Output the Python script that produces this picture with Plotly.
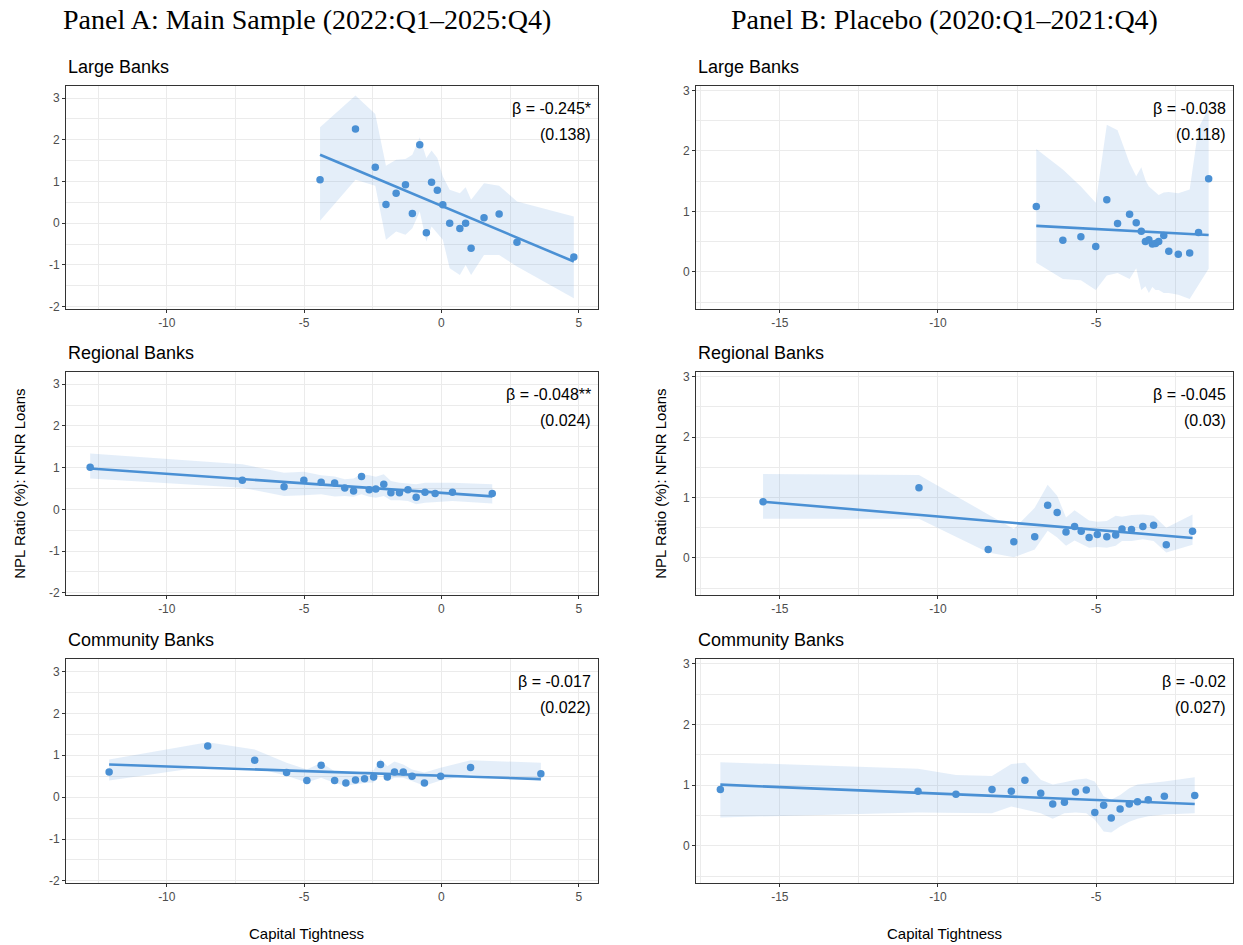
import plotly.graph_objects as go

# ---------------- data ----------------
a_large_x = [-4.42, -3.13, -2.41, -2.02, -1.65, -1.31, -1.06, -0.79, -0.55, -0.36,
             -0.15, 0.05, 0.30, 0.67, 0.88, 1.08, 1.55, 2.10, 2.75, 4.82]
a_large_y = [1.04, 2.26, 1.34, 0.45, 0.72, 0.92, 0.23, 1.88, -0.23, 0.98,
             0.79, 0.44, 0.00, -0.13, 0.00, -0.60, 0.13, 0.22, -0.46, -0.81]
a_large_hi = [2.30, 3.06, 2.62, 1.38, 1.52, 1.54, 1.64, 2.06, 1.56, 1.74,
              1.56, 1.12, 0.80, 0.72, 0.86, 0.56, 0.96, 0.90, 0.52, 0.16]
a_large_lo = [0.06, 1.04, 0.90, -0.40, -0.20, -0.28, -0.12, 0.28, -0.44, -0.08,
              -0.24, -0.40, -1.08, -1.24, -1.00, -1.24, -0.76, -0.76, -1.04, -1.80]

a_reg_x = [-12.79, -7.25, -5.73, -5.01, -4.38, -3.89, -3.52, -3.20, -2.91, -2.63,
           -2.39, -2.10, -1.84, -1.53, -1.22, -0.92, -0.60, -0.23, 0.40, 1.85]
a_reg_y = [1.01, 0.70, 0.54, 0.70, 0.65, 0.63, 0.51, 0.44, 0.79, 0.47,
           0.49, 0.60, 0.40, 0.40, 0.47, 0.29, 0.41, 0.38, 0.41, 0.38]
a_reg_hi = [1.34, 1.08, 0.88, 0.90, 0.82, 0.79, 0.72, 0.74, 0.84, 0.82,
            0.78, 0.84, 0.68, 0.64, 0.62, 0.60, 0.64, 0.64, 0.64, 0.60]
a_reg_lo = [0.74, 0.52, 0.32, 0.34, 0.36, 0.31, 0.32, 0.30, 0.36, 0.30,
            0.28, 0.32, 0.22, 0.22, 0.20, 0.12, 0.16, 0.18, 0.20, 0.14]

a_com_x = [-12.10, -8.51, -6.80, -5.64, -4.90, -4.38, -3.89, -3.48, -3.13, -2.80,
           -2.47, -2.22, -1.97, -1.71, -1.39, -1.07, -0.62, -0.03, 1.06, 3.62]
a_com_y = [0.60, 1.22, 0.88, 0.59, 0.40, 0.76, 0.40, 0.34, 0.41, 0.44,
           0.48, 0.78, 0.48, 0.60, 0.60, 0.50, 0.34, 0.50, 0.71, 0.56]
a_com_hi = [0.90, 1.31, 1.14, 0.82, 0.66, 0.82, 0.62, 0.59, 0.58, 0.62,
            0.64, 0.91, 0.74, 0.85, 0.78, 0.66, 0.59, 0.70, 0.88, 0.82]
a_com_lo = [0.40, 0.74, 0.70, 0.51, 0.35, 0.46, 0.34, 0.27, 0.30, 0.34,
            0.35, 0.59, 0.38, 0.46, 0.46, 0.38, 0.27, 0.40, 0.54, 0.40]

b_large_x = [-6.89, -6.05, -5.48, -5.01, -4.66, -4.32, -3.94, -3.73, -3.57, -3.44,
             -3.33, -3.22, -3.12, -3.02, -2.86, -2.70, -2.40, -2.04, -1.76, -1.44]
b_large_y = [1.08, 0.52, 0.58, 0.42, 1.19, 0.80, 0.95, 0.81, 0.67, 0.50,
             0.53, 0.46, 0.47, 0.50, 0.60, 0.34, 0.29, 0.31, 0.65, 1.54]
b_large_hi = [2.03, 1.69, 1.41, 1.14, 2.43, 2.34, 1.80, 1.58, 1.73, 1.52,
              1.41, 1.36, 1.33, 1.27, 1.31, 1.32, 1.30, 1.36, 2.38, 2.71]
b_large_lo = [0.15, -0.12, -0.14, -0.30, -0.06, -0.02, -0.12, 0.06, -0.30, -0.24,
              -0.35, -0.25, -0.30, -0.30, -0.35, -0.35, -0.38, -0.45, -0.22, 0.05]

b_reg_x = [-15.53, -10.60, -8.41, -7.60, -6.94, -6.53, -6.23, -5.95, -5.68, -5.47,
           -5.22, -4.96, -4.66, -4.38, -4.18, -3.88, -3.52, -3.18, -2.78, -1.95]
b_reg_y = [0.93, 1.16, 0.14, 0.27, 0.35, 0.87, 0.75, 0.43, 0.52, 0.44,
           0.34, 0.39, 0.35, 0.38, 0.48, 0.47, 0.52, 0.54, 0.22, 0.44]
b_reg_hi = [1.39, 1.37, 0.72, 0.48, 0.83, 1.21, 1.03, 0.67, 0.79, 0.71,
            0.62, 0.60, 0.61, 0.70, 0.68, 0.71, 0.72, 0.70, 0.50, 0.72]
b_reg_lo = [0.65, 0.65, 0.09, 0.01, 0.14, 0.45, 0.34, 0.20, 0.29, 0.23,
            0.17, 0.18, 0.17, 0.20, 0.28, 0.28, 0.31, 0.28, 0.09, 0.22]

b_com_x = [-16.88, -10.63, -9.43, -8.29, -7.68, -7.25, -6.75, -6.37, -6.00, -5.65,
           -5.31, -5.04, -4.76, -4.52, -4.24, -3.95, -3.69, -3.35, -2.84, -1.88]
b_com_y = [0.93, 0.90, 0.85, 0.93, 0.90, 1.08, 0.87, 0.69, 0.72, 0.89,
           0.92, 0.55, 0.67, 0.46, 0.61, 0.69, 0.73, 0.76, 0.82, 0.83]
b_com_hi = [1.38, 1.27, 1.17, 1.15, 1.35, 1.37, 1.09, 1.01, 1.05, 1.09,
            1.11, 1.06, 0.82, 0.76, 0.84, 0.95, 1.01, 1.03, 1.06, 1.13]
b_com_lo = [0.47, 0.55, 0.54, 0.54, 0.65, 0.60, 0.54, 0.45, 0.54, 0.55,
            0.54, 0.43, 0.24, 0.22, 0.32, 0.40, 0.45, 0.49, 0.52, 0.54]

# fitted line: intercept, slope
fit_intercept = [0.416, 0.395, 0.511, 0.570, 0.244, 0.650]
fit_slope = [-0.277, -0.0458, -0.0223, -0.0275, -0.0442, -0.0213]

beta_labels = ["β = -0.245*", "β = -0.048**", "β = -0.017",
               "β = -0.038", "β = -0.045", "β = -0.02"]
se_labels = ["(0.138)", "(0.024)", "(0.022)", "(0.118)", "(0.03)", "(0.027)"]
group_titles = ["Large Banks", "Regional Banks", "Community Banks"]
panel_titles = ["Panel A: Main Sample (2022:Q1–2025:Q4)",
                "Panel B: Placebo (2020:Q1–2021:Q4)"]

a_xticks = [-10, -5, 0, 5]
a_xtick_text = ["-10", "-5", "0", "5"]
a_yticks = [-2, -1, 0, 1, 2, 3]
a_ytick_text = ["-2", "-1", "0", "1", "2", "3"]
b_xticks = [-15, -10, -5]
b_xtick_text = ["-15", "-10", "-5"]
b_yticks = [0, 1, 2, 3]
b_ytick_text = ["0", "1", "2", "3"]
a_xminor = [-12.5, -7.5, -2.5, 2.5]
a_yminor = [-1.5, -0.5, 0.5, 1.5, 2.5]
b_xminor = [-17.5, -12.5, -7.5, -2.5]
b_yminor = [-0.5, 0.5, 1.5, 2.5]

x_label = "Capital Tightness"
y_label = "NPL Ratio (%): NFNR Loans"

# ---------------- layout (target pixels in the 1243x945 window) ----------------
W, H = 1243, 945
col_px = [(66, 598), (696, 1233)]
row_px = [(86, 309), (372, 595), (659, 883)]
a_xrange = [-13.67, 5.70]
a_yrange = [-2.05, 3.30]
b_xrange = [-17.65, -0.67]
b_yrange = [-0.61, 3.08]
Y_OFF, Y_SCALE = 2.5, 0.992   # small vertical correction observed in the capture

BLUE = "#4A90D4"
RIBBON = "rgba(74,144,212,0.15)"
SANS = "Liberation Sans"
SERIF = "Liberation Serif"

def px(x):
    return x / W

def ycorr(y):
    return (y - Y_OFF) / Y_SCALE

def py(y):
    return 1 - ycorr(y) / H

panels = [
    (a_large_x, a_large_y, a_large_lo, a_large_hi),
    (a_reg_x, a_reg_y, a_reg_lo, a_reg_hi),
    (a_com_x, a_com_y, a_com_lo, a_com_hi),
    (b_large_x, b_large_y, b_large_lo, b_large_hi),
    (b_reg_x, b_reg_y, b_reg_lo, b_reg_hi),
    (b_com_x, b_com_y, b_com_lo, b_com_hi),
]

fig = go.Figure()
layout = {}
annotations = []

for i, (xs, ys, lo, hi) in enumerate(panels):
    col = i // 3
    row = i % 3
    n = i + 1
    xa = "x" if n == 1 else f"x{n}"
    ya = "y" if n == 1 else f"y{n}"
    fig.add_trace(go.Scatter(
        x=list(xs) + list(xs)[::-1], y=list(hi) + list(lo)[::-1],
        fill="toself", fillcolor=RIBBON, line=dict(width=0), mode="lines",
        hoverinfo="skip", xaxis=xa, yaxis=ya, showlegend=False))
    lx = [min(xs), max(xs)]
    ly = [fit_intercept[i] + fit_slope[i] * v for v in lx]
    fig.add_trace(go.Scatter(
        x=lx, y=ly, mode="lines", line=dict(color=BLUE, width=2.6),
        xaxis=xa, yaxis=ya, showlegend=False))
    fig.add_trace(go.Scatter(
        x=xs, y=ys, mode="markers", marker=dict(color=BLUE, size=7.5),
        xaxis=xa, yaxis=ya, showlegend=False))

    x0, x1 = col_px[col]
    y0, y1 = row_px[row]
    if col == 0:
        xr, yr = a_xrange, a_yrange
        xt, xtt, yt, ytt = a_xticks, a_xtick_text, a_yticks, a_ytick_text
        xm, ym = a_xminor, a_yminor
    else:
        xr, yr = b_xrange, b_yrange
        xt, xtt, yt, ytt = b_xticks, b_xtick_text, b_yticks, b_ytick_text
        xm, ym = b_xminor, b_yminor
    common = dict(
        showgrid=True, gridcolor="#EBEBEB", gridwidth=1.1, zeroline=False,
        showline=True, mirror=True, linecolor="#333333", linewidth=1,
        ticks="outside", ticklen=3, tickwidth=1, tickcolor="#333333",
        tickfont=dict(family=SANS, size=12, color="#4D4D4D"),
        fixedrange=True,
    )
    layout["xaxis" if n == 1 else f"xaxis{n}"] = dict(
        domain=[px(x0), px(x1)], range=xr, tickvals=xt, ticktext=xtt,
        anchor=ya, minor=dict(tickvals=xm, showgrid=True, gridcolor="#EBEBEB",
                              gridwidth=0.6, ticks=""),
        **common)
    layout["yaxis" if n == 1 else f"yaxis{n}"] = dict(
        domain=[py(y1), py(y0)], range=yr, tickvals=yt, ticktext=ytt,
        anchor=xa, minor=dict(tickvals=ym, showgrid=True, gridcolor="#EBEBEB",
                              gridwidth=0.6, ticks=""),
        **common)

    annotations.append(dict(
        text=beta_labels[i], xref=f"{xa} domain", yref="paper",
        x=1, y=py(y0 + 23), xanchor="right", yanchor="middle", xshift=-5,
        showarrow=False, font=dict(family=SANS, size=16, color="black")))
    annotations.append(dict(
        text=se_labels[i], xref=f"{xa} domain", yref="paper",
        x=1, y=py(y0 + 49), xanchor="right", yanchor="middle", xshift=-5,
        showarrow=False, font=dict(family=SANS, size=16, color="black")))
    annotations.append(dict(
        text=group_titles[row], xref="paper", yref="paper",
        x=px(x0), y=py(y0 - 19), xanchor="left", yanchor="middle",
        showarrow=False, font=dict(family=SANS, size=18, color="black")))

annotations.append(dict(text=panel_titles[0], xref="paper", yref="paper",
                        x=px(61), y=py(20), xanchor="left", yanchor="middle",
                        showarrow=False, font=dict(family=SERIF, size=28, color="black")))
annotations.append(dict(text=panel_titles[1], xref="paper", yref="paper",
                        x=px(729), y=py(20), xanchor="left", yanchor="middle",
                        showarrow=False, font=dict(family=SERIF, size=28, color="black")))
for cx in (306, 944):
    annotations.append(dict(text=x_label, xref="paper", yref="paper",
                            x=px(cx), y=py(933), xanchor="center", yanchor="middle",
                            showarrow=False, font=dict(family=SANS, size=15, color="black")))
for cx in (20, 661):
    annotations.append(dict(text=y_label, xref="paper", yref="paper",
                            x=px(cx), y=py(484), xanchor="center", yanchor="middle",
                            textangle=-90, showarrow=False,
                            font=dict(family=SANS, size=15, color="black")))

fig.update_layout(
    width=W, height=H, margin=dict(l=0, r=0, t=0, b=0),
    paper_bgcolor="white", plot_bgcolor="white", showlegend=False,
    annotations=annotations, **layout)

fig.write_html(
    "out.html",
    config={"displayModeBar": False},
    post_script="document.body.style.margin='0';document.body.style.overflow='hidden';")
